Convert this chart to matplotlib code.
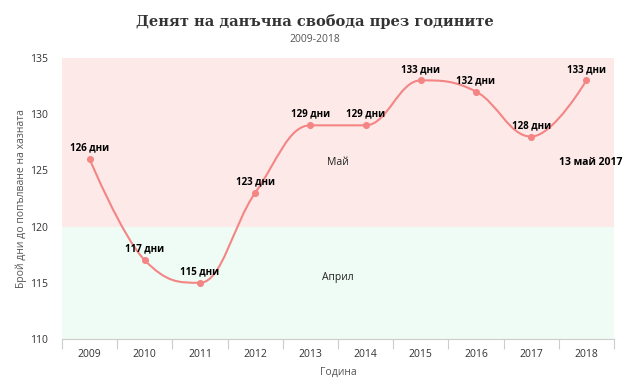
import numpy as np
import matplotlib.pyplot as plt
from matplotlib.path import Path
from matplotlib.patches import PathPatch

years = ["2009", "2010", "2011", "2012", "2013", "2014", "2015", "2016", "2017", "2018"]
days = [126, 117, 115, 123, 129, 129, 133, 132, 128, 133]
labels = [f"{d} дни" for d in days]
bands = [(110, 120, "#effbf5", "Април", 115.5), (120, 135, "#fde9e8", "Май", 125.7)]

plt.rcParams["font.family"] = ["Open Sans", "DejaVu Sans"]

fig = plt.figure(figsize=(6.3, 3.91), dpi=100)
ax = fig.add_axes([0.0984, 0.133, 0.8762, 0.719])

x = np.arange(len(days))
y = np.array(days, dtype=float)

for lo, hi, col, txt, ty in bands:
    ax.axhspan(lo, hi, color=col, lw=0, zorder=0)
    ax.text((len(days) - 1) / 2, ty, txt, ha="center", va="center", fontsize=7.5, color="#222222")


# highcharts style spline control points
def spline_path(xs, ys, smoothing=1.5):
    verts = [(xs[0], ys[0])]
    codes = [Path.MOVETO]
    n = len(xs)
    rc = [(xs[0], ys[0])] * n
    lc = [(xs[0], ys[0])] * n
    for i in range(1, n - 1):
        lx = (smoothing * xs[i] + xs[i - 1]) / (smoothing + 1)
        ly = (smoothing * ys[i] + ys[i - 1]) / (smoothing + 1)
        rx = (smoothing * xs[i] + xs[i + 1]) / (smoothing + 1)
        ry = (smoothing * ys[i] + ys[i + 1]) / (smoothing + 1)
        corr = (ry - ly) * (rx - xs[i]) / (rx - lx) + ys[i] - ry
        ly += corr
        ry += corr
        py, ny = ys[i - 1], ys[i + 1]
        if ly > py and ly > ys[i]:
            ly = max(py, ys[i])
            ry = 2 * ys[i] - ly
        elif ly < py and ly < ys[i]:
            ly = min(py, ys[i])
            ry = 2 * ys[i] - ly
        if ry > ny and ry > ys[i]:
            ry = max(ny, ys[i])
            ly = 2 * ys[i] - ry
        elif ry < ny and ry < ys[i]:
            ry = min(ny, ys[i])
            ly = 2 * ys[i] - ry
        lc[i] = (lx, ly)
        rc[i] = (rx, ry)
    lc[-1] = (xs[-1], ys[-1])
    rc[0] = (xs[0], ys[0])
    for i in range(1, n):
        verts += [rc[i - 1], lc[i], (xs[i], ys[i])]
        codes += [Path.CURVE4] * 3
    return Path(verts, codes)


line_color = "#f48585"
ax.add_patch(PathPatch(spline_path(x, y), fill=False, edgecolor=line_color, lw=1.5, zorder=3))
ax.scatter(x, y, s=26, color=line_color, zorder=4, linewidths=0)

for xi, yi, lab in zip(x, y, labels):
    ax.annotate(lab, (xi, yi), xytext=(0, 4), textcoords="offset points",
                ha="center", va="bottom", fontsize=7, fontweight="bold", color="black", zorder=5)

ax.text(1.015, 125.7, "13 май 2017", transform=ax.get_yaxis_transform(), ha="right", va="center",
        fontsize=7.5, fontweight="bold", color="black")

ax.set_xlim(-0.5, len(days) - 0.5)
ax.set_ylim(110, 135)
ax.set_yticks(range(110, 136, 5))
ax.set_xticks(x)
ax.set_xticklabels(years)
ax.set_xticks(np.arange(-0.5, len(days)), minor=True)
ax.tick_params(axis="x", which="major", length=0, labelsize=7.5, colors="#333333", pad=7)
ax.tick_params(axis="x", which="minor", length=7, color="#cccccc", width=0.8)
ax.tick_params(axis="y", length=0, labelsize=7.5, colors="#333333", pad=10)

for s in ["top", "right", "left"]:
    ax.spines[s].set_visible(False)
ax.spines["bottom"].set_color("#cccccc")
ax.spines["bottom"].set_linewidth(0.8)

ax.set_xlabel("Година", fontsize=7.5, color="#555555", labelpad=5)
ax.set_ylabel("Брой дни до попълване на хазната", fontsize=7.5, color="#555555", labelpad=2)

fig.text(0.5, 0.945, "Денят на данъчна свобода през годините", ha="center", va="center",
         fontsize=10.5, fontweight="bold", family="DejaVu Serif", color="#333333")
fig.text(0.5, 0.898, "2009-2018", ha="center", va="center", fontsize=7.5, color="#555555")

fig.savefig("out.png", dpi=100)
